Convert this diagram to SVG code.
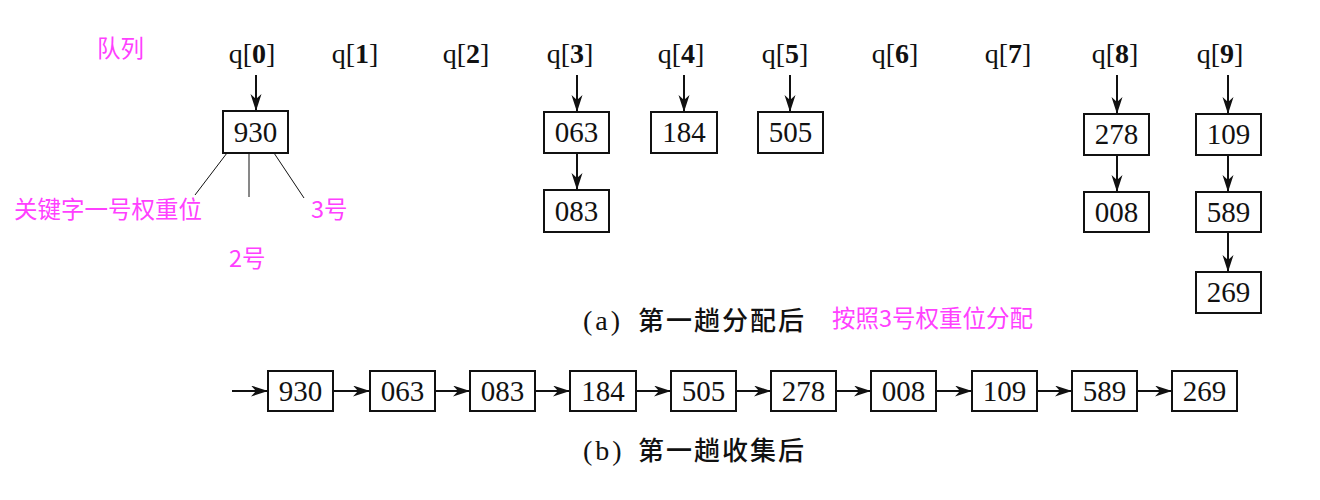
<svg xmlns="http://www.w3.org/2000/svg" width="1320" height="500" viewBox="0 0 1320 500">
<style>
.box{fill:#fff;stroke:#111;stroke-width:2}
.num{font-family:"Liberation Serif","Times New Roman",serif;font-size:29px;fill:#111;text-anchor:middle}
.q{font-family:"Liberation Serif","Times New Roman",serif;font-size:28px;fill:#111;text-anchor:middle}
.q tspan.b{font-weight:bold}
.pink{font-family:"Noto Sans CJK SC","Noto Sans",sans-serif;font-size:23.5px;fill:#ff40ff}
.cap{font-family:"Noto Sans CJK SC",sans-serif;font-size:26px;fill:#111;letter-spacing:2px;font-weight:500}
.capl{font-family:"Liberation Serif",serif;font-size:28px;fill:#111;letter-spacing:3px}
.arr{stroke:#111;stroke-width:2;fill:none;marker-end:url(#ah)}
.thin{stroke:#111;stroke-width:1;fill:none}
</style>
<defs>
<marker id="ah" markerUnits="userSpaceOnUse" markerWidth="18" markerHeight="12" refX="17" refY="5.5" orient="auto">
<path d="M0,0 L17,5.5 L0,11 L5,5.5 z" fill="#111"/>
</marker>
</defs>
<rect width="1320" height="500" fill="#fff"/>

<g id="labels">
<text class="q" x="252" y="63">q[<tspan class="b">0</tspan>]</text>
<text class="q" x="355" y="63">q[<tspan class="b">1</tspan>]</text>
<text class="q" x="466" y="63">q[<tspan class="b">2</tspan>]</text>
<text class="q" x="570" y="63">q[<tspan class="b">3</tspan>]</text>
<text class="q" x="681" y="63">q[<tspan class="b">4</tspan>]</text>
<text class="q" x="785" y="63">q[<tspan class="b">5</tspan>]</text>
<text class="q" x="895" y="63">q[<tspan class="b">6</tspan>]</text>
<text class="q" x="1008" y="63">q[<tspan class="b">7</tspan>]</text>
<text class="q" x="1115" y="63">q[<tspan class="b">8</tspan>]</text>
<text class="q" x="1220" y="63">q[<tspan class="b">9</tspan>]</text>
<text class="pink" x="97" y="57">队列</text>
<text class="pink" x="14" y="218">关键字一号权重位</text>
<text class="pink" x="311" y="218">3号</text>
<text class="pink" x="229" y="267">2号</text>
<text class="pink" x="832" y="327">按照3号权重位分配</text>
<text x="583" y="330"><tspan class="capl">(a)</tspan><tspan class="cap" x="638">第一趟分配后</tspan></text>
<text x="583" y="460"><tspan class="capl">(b)</tspan><tspan class="cap" x="638">第一趟收集后</tspan></text>
</g>

<g id="connectors">
<line class="arr" x1="256" y1="75" x2="256" y2="111"/>
<line class="arr" x1="577" y1="75" x2="577" y2="112"/>
<line class="arr" x1="577" y1="153" x2="577" y2="190"/>
<line class="arr" x1="684" y1="75" x2="684" y2="112"/>
<line class="arr" x1="790" y1="75" x2="790" y2="112"/>
<line class="arr" x1="1117" y1="75" x2="1117" y2="114"/>
<line class="arr" x1="1117" y1="155" x2="1117" y2="192"/>
<line class="arr" x1="1228" y1="75" x2="1228" y2="114"/>
<line class="arr" x1="1228" y1="155" x2="1228" y2="192"/>
<line class="arr" x1="1228" y1="232" x2="1228" y2="272"/>
<line class="thin" x1="227" y1="153" x2="195" y2="195"/>
<line class="thin" x1="249" y1="153" x2="249" y2="197"/>
<line class="thin" x1="274" y1="153" x2="304" y2="198"/>
<line class="arr" x1="232" y1="391" x2="268" y2="391"/>
<line class="arr" x1="333" y1="391" x2="370" y2="391"/>
<line class="arr" x1="435" y1="391" x2="470" y2="391"/>
<line class="arr" x1="535" y1="391" x2="570" y2="391"/>
<line class="arr" x1="636" y1="391" x2="671" y2="391"/>
<line class="arr" x1="736" y1="391" x2="771" y2="391"/>
<line class="arr" x1="836" y1="391" x2="871" y2="391"/>
<line class="arr" x1="936" y1="391" x2="972" y2="391"/>
<line class="arr" x1="1037" y1="391" x2="1072" y2="391"/>
<line class="arr" x1="1137" y1="391" x2="1172" y2="391"/>
</g>

<g id="n930a"><rect class="box" x="223" y="111" width="65" height="42"/><text class="num" x="255.5" y="142">930</text></g>
<g id="n063a"><rect class="box" x="544" y="112" width="65" height="41"/><text class="num" x="576.5" y="142">063</text></g>
<g id="n083a"><rect class="box" x="544" y="190" width="65" height="42"/><text class="num" x="576.5" y="221">083</text></g>
<g id="n184a"><rect class="box" x="651" y="112" width="66" height="41"/><text class="num" x="684" y="142">184</text></g>
<g id="n505a"><rect class="box" x="758" y="112" width="65" height="41"/><text class="num" x="790.5" y="142">505</text></g>
<g id="n278a"><rect class="box" x="1084" y="114" width="65" height="41"/><text class="num" x="1116.5" y="144">278</text></g>
<g id="n008a"><rect class="box" x="1084" y="192" width="65" height="40"/><text class="num" x="1116.5" y="222">008</text></g>
<g id="n109a"><rect class="box" x="1196" y="114" width="65" height="41"/><text class="num" x="1228.5" y="144">109</text></g>
<g id="n589a"><rect class="box" x="1196" y="192" width="65" height="40"/><text class="num" x="1228.5" y="222">589</text></g>
<g id="n269a"><rect class="box" x="1196" y="272" width="65" height="41"/><text class="num" x="1228.5" y="302">269</text></g>

<g id="n930b"><rect class="box" x="268" y="371" width="65" height="40"/><text class="num" x="300.5" y="401">930</text></g>
<g id="n063b"><rect class="box" x="370" y="371" width="65" height="40"/><text class="num" x="402.5" y="401">063</text></g>
<g id="n083b"><rect class="box" x="470" y="371" width="65" height="40"/><text class="num" x="502.5" y="401">083</text></g>
<g id="n184b"><rect class="box" x="570" y="371" width="66" height="40"/><text class="num" x="603" y="401">184</text></g>
<g id="n505b"><rect class="box" x="671" y="371" width="65" height="40"/><text class="num" x="703.5" y="401">505</text></g>
<g id="n278b"><rect class="box" x="771" y="371" width="65" height="40"/><text class="num" x="803.5" y="401">278</text></g>
<g id="n008b"><rect class="box" x="871" y="371" width="65" height="40"/><text class="num" x="903.5" y="401">008</text></g>
<g id="n109b"><rect class="box" x="972" y="371" width="65" height="40"/><text class="num" x="1004.5" y="401">109</text></g>
<g id="n589b"><rect class="box" x="1072" y="371" width="65" height="40"/><text class="num" x="1104.5" y="401">589</text></g>
<g id="n269b"><rect class="box" x="1172" y="371" width="65" height="40"/><text class="num" x="1204.5" y="401">269</text></g>
</svg>
